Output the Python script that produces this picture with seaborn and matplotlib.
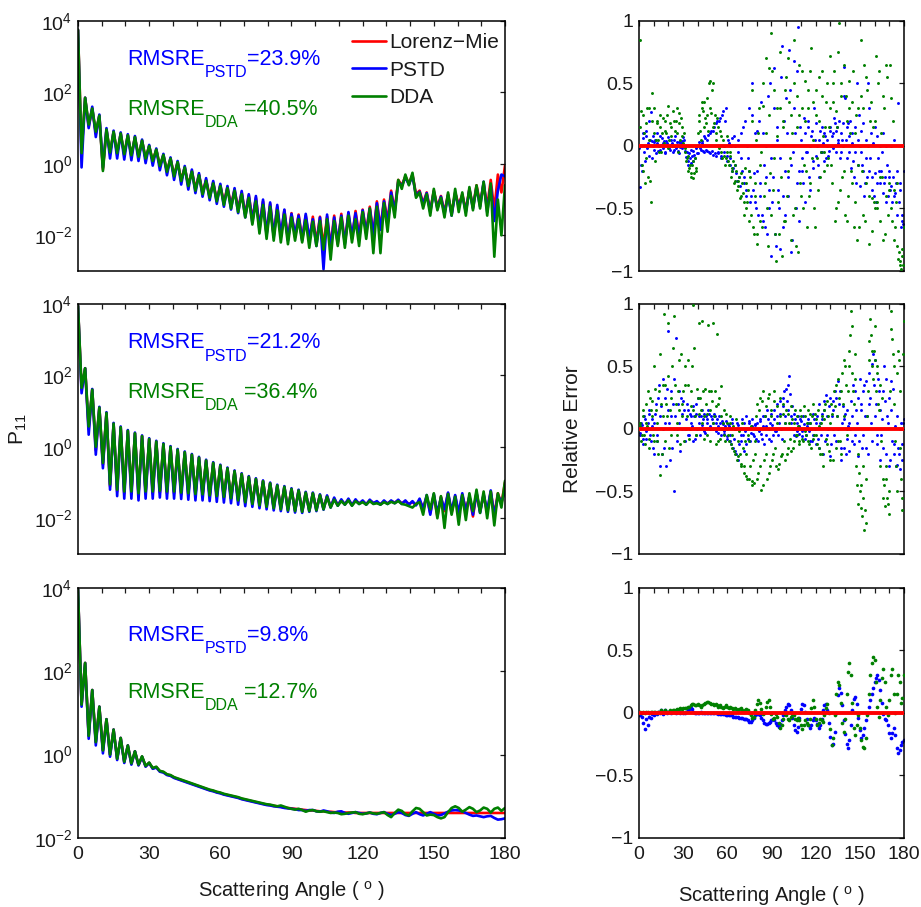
import numpy as np
import matplotlib
matplotlib.use("Agg")
import matplotlib.pyplot as plt
import seaborn as sns
from matplotlib.ticker import NullLocator

# scattering angle grids (deg)
angle = np.arange(0, 180.1, 1.5)
err_angle = np.arange(0, 181, 1)
err_angle_half = np.arange(0.5, 180, 1)

# log10(P11), case 1
mie_1 = [3.75, 0.3, 1.85, 1.05, 1.55, 0.85, 1.35, -0.15, 0.96, 0.3,
         0.9, 0.28, 0.85, 0.25, 0.8, 0.22, 0.75, 0.2, 0.65, 0.15,
         0.5, 0.08, 0.4, -0.05, 0.25, -0.2, 0.15, -0.32, 0.05, -0.45,
         -0.1, -0.6, -0.2, -0.7, -0.3, -0.8, -0.45, -0.9, -0.52, -1.0,
         -0.6, -1.08, -0.65, -1.15, -0.72, -1.25, -0.8, -1.4, -0.88, -1.55,
         -0.95, -1.75, -1.05, -1.95, -1.12, -2.0, -1.2, -2.05, -1.3, -2.1,
         -1.38, -2.05, -1.42, -2.1, -1.45, -2.15, -1.48, -2.2, -1.48, -2.3,
         -1.48, -2.3, -1.45, -2.25, -1.4, -2.2, -1.38, -2.1, -1.32, -2.0,
         -1.28, -1.9, -1.2, -1.95, -1.05, -1.8, -1.0, -1.6, -0.75, -1.3,
         -0.45, -0.6, -0.35, -0.55, -0.3, -0.85, -0.75, -1.1, -0.8, -1.3,
         -0.75, -1.2, -0.9, -1.35, -0.85, -1.4, -0.8, -1.15, -0.85, -1.3,
         -0.7, -1.2, -0.6, -1.1, -0.55, -1.2, -0.45, -1.3, -0.3, -0.8,
         -0.05]
pstd_1 = [3.75, -0.1, 1.85, 1.0, 1.6, 0.75, 1.38, -0.1, 1.0, 0.15,
          0.93, 0.15, 0.88, 0.12, 0.83, 0.1, 0.78, 0.08, 0.68, 0.02,
          0.53, -0.05, 0.43, -0.18, 0.28, -0.32, 0.18, -0.45, 0.08, -0.58,
          -0.06, -0.72, -0.16, -0.82, -0.26, -0.92, -0.4, -1.02, -0.48, -1.12,
          -0.56, -1.2, -0.62, -1.28, -0.68, -1.38, -0.76, -1.5, -0.85, -1.65,
          -0.9, -1.85, -1.0, -2.0, -1.08, -2.05, -1.15, -2.0, -1.28, -2.15,
          -1.4, -2.0, -1.45, -2.15, -1.4, -2.1, -1.55, -2.3, -1.5, -2.95,
          -1.42, -2.4, -1.5, -2.2, -1.45, -2.25, -1.35, -2.05, -1.38, -2.1,
          -1.3, -1.95, -1.25, -2.0, -1.1, -1.85, -1.05, -1.7, -0.8, -1.35,
          -0.5, -0.62, -0.38, -0.58, -0.33, -0.9, -0.78, -1.15, -0.82, -1.35,
          -0.78, -1.25, -0.92, -1.4, -0.88, -1.45, -0.82, -1.2, -0.88, -1.35,
          -0.72, -1.25, -0.65, -1.2, -0.5, -1.35, -0.6, -1.6, -0.75, -0.3,
          -0.35]
dda_1 = [3.75, 0.3, 1.85, 1.1, 1.55, 0.9, 1.35, -0.2, 0.96, 0.32,
         0.9, 0.3, 0.85, 0.27, 0.8, 0.24, 0.75, 0.2, 0.65, 0.15,
         0.5, 0.08, 0.4, -0.06, 0.25, -0.22, 0.15, -0.35, 0.05, -0.48,
         -0.1, -0.62, -0.22, -0.75, -0.32, -0.85, -0.48, -0.95, -0.55, -1.05,
         -0.62, -1.15, -0.68, -1.25, -0.75, -1.35, -0.85, -1.5, -0.95, -1.7,
         -1.05, -1.95, -1.15, -2.1, -1.2, -2.15, -1.3, -2.2, -1.42, -2.25,
         -1.5, -2.15, -1.55, -2.2, -1.58, -2.35, -1.62, -2.3, -1.6, -2.4,
         -1.55, -2.68, -1.6, -2.3, -1.5, -2.35, -1.45, -2.2, -1.55, -2.3,
         -1.35, -2.1, -1.25, -2.5, -1.2, -2.5, -1.1, -1.9, -0.9, -1.5,
         -0.45, -0.7, -0.3, -0.6, -0.25, -0.95, -0.8, -1.25, -0.85, -1.45,
         -0.7, -1.3, -0.95, -1.5, -0.8, -1.45, -0.7, -1.35, -0.8, -1.45,
         -0.65, -1.3, -0.6, -1.25, -0.5, -1.45, -0.55, -2.6, -1.0, -2.0,
         -0.6]

# log10(P11), case 2
mie_2 = [3.95, 1.6, 2.2, 0.5, 1.6, -0.1, 1.1, -0.5, 0.95, -1.1,
         0.65, -1.25, 0.55, -1.3, 0.45, -1.3, 0.38, -1.35, 0.3, -1.3,
         0.22, -1.3, 0.15, -1.28, 0.08, -1.3, 0.0, -1.3, -0.08, -1.32,
         -0.15, -1.33, -0.22, -1.35, -0.3, -1.36, -0.38, -1.38, -0.45, -1.4,
         -0.52, -1.42, -0.6, -1.45, -0.68, -1.5, -0.76, -1.55, -0.84, -1.58,
         -0.9, -1.62, -0.96, -1.66, -1.02, -1.7, -1.08, -1.72, -1.12, -1.75,
         -1.18, -1.78, -1.22, -1.8, -1.28, -1.78, -1.3, -1.75, -1.35, -1.72,
         -1.38, -1.68, -1.45, -1.62, -1.5, -1.6, -1.48, -1.62, -1.5, -1.58,
         -1.52, -1.6, -1.5, -1.57, -1.55, -1.6, -1.53, -1.58, -1.52, -1.56,
         -1.5, -1.58, -1.52, -1.6, -1.55, -1.62, -1.5, -1.7, -1.4, -1.85,
         -1.35, -1.95, -1.4, -1.8, -1.3, -1.85, -1.38, -1.9, -1.35, -1.75,
         -1.4, -1.95, -1.3, -1.8, -1.35, -1.85, -1.25, -1.9, -1.3, -1.6,
         -1.0]
pstd_2 = [3.95, 1.5, 2.2, 0.34, 1.62, -0.22, 1.12, -0.6, 0.97, -1.2,
          0.67, -1.38, 0.57, -1.45, 0.47, -1.45, 0.4, -1.5, 0.32, -1.45,
          0.24, -1.45, 0.17, -1.42, 0.1, -1.45, 0.02, -1.45, -0.06, -1.46,
          -0.13, -1.48, -0.2, -1.5, -0.28, -1.5, -0.36, -1.52, -0.43, -1.54,
          -0.5, -1.56, -0.58, -1.58, -0.66, -1.62, -0.74, -1.66, -0.82, -1.68,
          -0.88, -1.72, -0.94, -1.75, -1.0, -1.78, -1.06, -1.8, -1.1, -1.82,
          -1.16, -1.84, -1.2, -1.85, -1.26, -1.82, -1.28, -1.8, -1.33, -1.76,
          -1.36, -1.7, -1.42, -1.65, -1.47, -1.62, -1.45, -1.64, -1.47, -1.6,
          -1.5, -1.62, -1.48, -1.58, -1.52, -1.62, -1.5, -1.6, -1.5, -1.58,
          -1.48, -1.6, -1.5, -1.62, -1.52, -1.64, -1.45, -1.75, -1.35, -1.9,
          -1.32, -1.85, -1.42, -1.75, -1.28, -1.8, -1.35, -1.85, -1.3, -1.8,
          -1.38, -1.9, -1.28, -1.85, -1.32, -1.8, -1.22, -1.95, -1.35, -1.55,
          -1.25]
dda_2 = [3.95, 1.65, 2.2, 0.57, 1.6, 0.0, 1.1, -0.45, 0.95, -1.05,
         0.65, -1.2, 0.55, -1.25, 0.45, -1.25, 0.38, -1.3, 0.3, -1.25,
         0.22, -1.25, 0.15, -1.23, 0.08, -1.25, 0.0, -1.25, -0.08, -1.28,
         -0.15, -1.3, -0.22, -1.32, -0.3, -1.33, -0.38, -1.36, -0.45, -1.38,
         -0.52, -1.4, -0.6, -1.44, -0.68, -1.5, -0.76, -1.55, -0.84, -1.6,
         -0.9, -1.64, -0.96, -1.68, -1.02, -1.72, -1.08, -1.75, -1.12, -1.78,
         -1.18, -1.8, -1.22, -1.82, -1.28, -1.8, -1.3, -1.78, -1.35, -1.75,
         -1.4, -1.7, -1.48, -1.65, -1.52, -1.62, -1.5, -1.65, -1.52, -1.6,
         -1.55, -1.62, -1.52, -1.6, -1.58, -1.62, -1.55, -1.6, -1.54, -1.58,
         -1.52, -1.6, -1.62, -1.66, -1.7, -1.6, -1.55, -1.9, -1.35, -1.75,
         -1.3, -2.0, -1.38, -2.27, -1.32, -1.9, -1.4, -2.18, -1.35, -2.05,
         -1.3, -1.8, -1.2, -1.85, -1.25, -2.0, -1.25, -2.2, -1.3, -1.7,
         -0.95]

# log10(P11), case 3
mie_3 = [3.97, 1.2, 2.2, 0.45, 1.55, 0.3, 1.15, 0.1, 0.85, 0.0,
         0.6, -0.1, 0.4, -0.18, 0.22, -0.22, 0.08, -0.25, -0.05, -0.28,
         -0.2, -0.33, -0.3, -0.4, -0.42, -0.48, -0.5, -0.55, -0.58, -0.61,
         -0.64, -0.67, -0.7, -0.73, -0.76, -0.79, -0.82, -0.85, -0.87, -0.9,
         -0.92, -0.95, -0.97, -0.99, -1.01, -1.03, -1.06, -1.08, -1.1, -1.12,
         -1.14, -1.16, -1.18, -1.2, -1.21, -1.23, -1.24, -1.25, -1.27, -1.28,
         -1.29, -1.3, -1.31, -1.32, -1.33, -1.34, -1.34, -1.35, -1.36, -1.36,
         -1.37, -1.37, -1.38, -1.38, -1.38, -1.39, -1.39, -1.39, -1.4, -1.4,
         -1.4, -1.4, -1.4, -1.4, -1.4, -1.4, -1.4, -1.4, -1.4, -1.4,
         -1.4, -1.4, -1.4, -1.4, -1.4, -1.4, -1.4, -1.4, -1.4, -1.4,
         -1.4, -1.4, -1.4, -1.4, -1.4, -1.4, -1.4, -1.4, -1.4, -1.4,
         -1.4, -1.4, -1.4, -1.4, -1.4, -1.4, -1.4, -1.4, -1.4, -1.4,
         -1.4]
pstd_3 = [3.97, 1.15, 2.2, 0.38, 1.55, 0.22, 1.15, 0.03, 0.85, -0.05,
          0.6, -0.13, 0.4, -0.2, 0.22, -0.24, 0.08, -0.26, -0.05, -0.29,
          -0.2, -0.34, -0.31, -0.41, -0.43, -0.49, -0.51, -0.56, -0.59, -0.62,
          -0.65, -0.68, -0.71, -0.74, -0.77, -0.8, -0.83, -0.86, -0.88, -0.91,
          -0.93, -0.96, -0.98, -1.0, -1.02, -1.04, -1.07, -1.09, -1.11, -1.13,
          -1.15, -1.17, -1.19, -1.21, -1.22, -1.24, -1.25, -1.26, -1.28, -1.29,
          -1.3, -1.31, -1.33, -1.33, -1.35, -1.33, -1.33, -1.36, -1.37, -1.34,
          -1.36, -1.39, -1.4, -1.37, -1.36, -1.4, -1.42, -1.4, -1.38, -1.4,
          -1.42, -1.41, -1.39, -1.42, -1.43, -1.4, -1.38, -1.42, -1.45, -1.42,
          -1.38, -1.4, -1.45, -1.47, -1.42, -1.38, -1.43, -1.46, -1.42, -1.38,
          -1.42, -1.46, -1.45, -1.41, -1.37, -1.34, -1.33, -1.34, -1.36, -1.4,
          -1.44, -1.47, -1.46, -1.48, -1.5, -1.48, -1.47, -1.52, -1.56, -1.55,
          -1.53]
dda_3 = [3.97, 1.2, 2.2, 0.45, 1.55, 0.3, 1.15, 0.1, 0.85, 0.0,
         0.6, -0.1, 0.4, -0.17, 0.22, -0.21, 0.08, -0.24, -0.04, -0.27,
         -0.19, -0.32, -0.29, -0.39, -0.41, -0.47, -0.49, -0.54, -0.57, -0.6,
         -0.63, -0.66, -0.69, -0.72, -0.75, -0.78, -0.81, -0.84, -0.86, -0.89,
         -0.91, -0.94, -0.96, -0.98, -1.0, -1.02, -1.05, -1.07, -1.09, -1.11,
         -1.13, -1.15, -1.17, -1.19, -1.2, -1.22, -1.24, -1.22, -1.25, -1.28,
         -1.3, -1.32, -1.3, -1.33, -1.37, -1.34, -1.33, -1.36, -1.37, -1.36,
         -1.38, -1.4, -1.39, -1.4, -1.43, -1.42, -1.4, -1.39, -1.38, -1.42,
         -1.43, -1.41, -1.39, -1.41, -1.42, -1.4, -1.38, -1.45, -1.5, -1.4,
         -1.32, -1.35, -1.43, -1.46, -1.36, -1.28, -1.3, -1.38, -1.46, -1.44,
         -1.45, -1.5, -1.53, -1.5, -1.38, -1.28, -1.24, -1.28, -1.37, -1.32,
         -1.26, -1.3, -1.38, -1.34, -1.27, -1.3, -1.39, -1.3, -1.27, -1.35,
         -1.28]

# relative error vs Lorenz-Mie at whole degrees
err_pstd_1 = [-0.02, -0.33, -0.2, 0.06, -0.12, 0.08, 0.02, -0.08, 0.27, 0.04,
              -0.03, 0.05, 0.02, -0.04, 0.08, 0.01, -0.02, 0.04, -0.06, 0.02,
              0.07, -0.03, 0.01, -0.05, 0.05, -0.02, 0.03, -0.06, -0.01, 0.04,
              0.07, -0.04, -0.09, -0.12, -0.06, -0.14, -0.08, -0.04, -0.1, -0.02,
              -0.06, 0.01, -0.03, 0.04, -0.05, 0.06, -0.04, 0.09, -0.06, 0.12,
              -0.07, 0.15, -0.08, 0.2, -0.06, 0.22, -0.1, 0.28, -0.05, 0.3,
              -0.12, 0.02, -0.15, 0.06, -0.18, 0.0, -0.22, -0.05, -0.25, 0.1,
              -0.2, -0.3, 0.2, -0.35, -0.1, 0.3, -0.4, 0.5, -0.22, -0.45,
              0.12, -0.55, -0.3, 0.35, -0.6, -0.15, 0.0, -0.7, -0.35, 0.5,
              -0.88, -0.25, 0.62, -0.8, 0.15, -0.5, -0.1, 0.8, -0.65, -0.2,
              0.38, -0.4, 0.77, -0.15, -0.75, 0.68, 0.1, -0.3, 0.95, -0.6,
              0.05, -0.2, 0.22, -0.45, -0.05, 0.15, -0.35, 0.08, -0.12, 0.3,
              -0.08, 0.0, -0.25, 0.12, -0.05, 0.02, 0.1, -0.1, 0.05, -0.04,
              0.15, 0.08, -0.02, 0.18, 0.12, 0.02, 0.2, -0.05, 0.05, 0.63,
              0.38, -0.1, 0.18, 0.08, -0.18, 0.1, -0.25, -0.05, 0.5, -0.15,
              -0.32, 0.12, -0.2, -0.4, 0.05, -0.25, 0.3, -0.1, -0.35, 0.02,
              -0.22, -0.45, 0.08, -0.2, -0.3, -0.05, -0.38, -0.25, 0.0, -0.4,
              -0.2, -0.32, -0.45, 0.05, -0.38, -0.55, 0.34, -0.3, -0.65, -0.6,
              -0.2]
err_dda_1 = [0.0, 0.85, -0.15, 0.25, -0.3, 0.18, -0.25, 0.3, -0.45, 0.42,
             0.1, -0.12, 0.2, 0.05, 0.15, -0.05, 0.22, 0.02, 0.12, 0.25,
             -0.02, 0.18, 0.08, 0.28, 0.0, 0.2, 0.1, 0.26, 0.05, 0.15,
             0.02, -0.05, -0.12, -0.08, -0.18, -0.22, -0.15, -0.26, -0.1, -0.2,
             0.1, 0.25, 0.05, 0.35, 0.15, 0.22, 0.38, 0.12, 0.52, 0.26,
             0.5, 0.18, 0.1, 0.22, 0.0, 0.12, -0.05, 0.05, -0.08, -0.1,
             0.08, -0.15, -0.05, -0.2, -0.12, -0.28, -0.2, -0.32, -0.25, -0.4,
             -0.3, -0.45, -0.18, -0.5, -0.35, -0.2, -0.55, 0.45, -0.7, -0.3,
             -0.78, 0.1, -0.6, -0.05, 0.32, -0.4, 0.7, -0.5, 0.62, -0.22,
             0.9, -0.35, 0.45, -0.92, 0.08, -0.7, 0.3, -0.88, 0.15, -0.6,
             0.55, -0.2, 0.35, -0.75, 0.1, 0.85, -0.5, 0.4, -0.85, 0.25,
             -0.4, 0.6, -0.15, 0.52, -0.65, 0.3, -0.3, 0.78, 0.05, -0.5,
             0.45, -0.1, 0.2, -0.25, 0.6, 0.08, -0.05, 0.35, -0.15, 0.15,
             0.72, -0.3, 0.5, -0.6, 0.28, -0.45, 0.98, 0.4, -0.25, 0.65,
             -0.55, 0.2, -0.4, 0.52, -0.2, 0.35, -0.65, 0.1, -0.75, 0.3,
             0.0, 0.85, -0.55, 0.65, -0.3, 0.45, -0.78, 0.2, -0.42, 0.15,
             -0.5, 0.72, -0.45, 0.6, -0.6, -0.25, 0.4, -0.7, 0.65, -0.55,
             -0.3, 0.38, -0.6, -0.35, -0.65, -0.8, -0.9, -0.95, -0.98, -0.82,
             -0.65]
err_pstd_2 = [0.0, -0.05, 0.03, -0.12, 0.08, -0.08, 0.05, 0.15, -0.1, 0.02,
              -0.2, 0.12, -0.05, 0.25, -0.3, 0.18, 0.4, -0.15, 0.05, 0.32,
              0.78, -0.25, 0.1, 0.2, -0.5, 0.73, 0.0, 0.3, -0.18, 0.12,
              0.22, -0.1, 0.08, 0.15, -0.05, 0.1, 0.02, 0.18, -0.08, 0.12,
              0.25, 0.05, 0.1, 0.03, 0.12, -0.03, 0.08, 0.15, 0.0, 0.1,
              0.05, 0.12, -0.02, 0.08, 0.02, 0.05, -0.05, 0.04, -0.02, 0.06,
              -0.08, 0.02, -0.1, 0.05, -0.15, 0.0, -0.2, 0.03, -0.12, -0.05,
              0.08, -0.18, -0.02, 0.1, -0.08, 0.05, -0.03, 0.02, -0.06, 0.04,
              0.0, -0.1, 0.06, -0.04, 0.1, -0.12, 0.02, 0.15, -0.08, 0.05,
              0.12, -0.05, 0.08, -0.02, 0.2, 0.05, 0.22, -0.08, 0.25, 0.1,
              0.32, 0.15, 0.42, 0.05, 0.18, -0.05, 0.08, -0.02, 0.1, 0.02,
              0.06, -0.06, 0.04, -0.08, 0.02, 0.05, -0.1, 0.0, -0.05, 0.08,
              -0.12, 0.1, -0.15, 0.05, 0.12, -0.2, 0.15, 0.27, -0.05, 0.18,
              -0.22, 0.1, 0.22, 0.3, -0.1, 0.38, 0.2, -0.25, 0.05, -0.15,
              0.12, -0.08, 0.02, -0.18, 0.22, 0.1, -0.12, 0.3, 0.05, -0.22,
              0.4, 0.15, -0.05, 0.35, -0.15, 0.1, 0.45, 0.25, -0.1, 0.6,
              0.55, 0.2, -0.05, 0.3, -0.25, 0.08, -0.15, 0.22, 0.4, 0.05,
              -0.3, 0.38, -0.1, -0.2, 0.02, -0.29, -0.15, -0.32, 0.05, -0.12,
              0.08]
err_dda_2 = [0.0, 0.02, -0.05, 0.1, -0.12, 0.05, 0.3, -0.08, 0.15, 0.22,
             -0.1, 0.32, 0.05, -0.2, -0.37, 0.2, 0.35, 0.92, -0.1, 0.1,
             0.42, 0.15, -0.05, 0.65, 0.9, 0.2, 0.05, 0.55, -0.12, 0.1,
             0.3, 0.5, 0.0, 0.35, -0.08, 0.18, 0.5, 0.99, 0.1, -0.05,
             0.25, 0.85, 0.15, 0.86, -0.08, 0.32, 0.12, 0.83, -0.1, 0.3,
             0.85, 0.1, -0.12, 0.76, 0.2, -0.08, 0.34, 0.05, -0.05, 0.12,
             0.0, -0.1, 0.05, -0.15, 0.02, -0.2, 0.08, -0.22, -0.02, -0.28,
             0.05, -0.3, -0.1, -0.38, -0.05, -0.4, 0.02, -0.45, -0.43, -0.2,
             0.2, -0.35, 0.25, -0.49, 0.3, -0.25, 0.18, -0.4, 0.28, -0.3,
             0.1, -0.2, 0.22, -0.3, 0.05, -0.28, 0.25, -0.2, 0.12, -0.25,
             0.15, -0.15, 0.05, -0.18, 0.08, -0.1, 0.15, -0.05, 0.02, -0.12,
             0.1, -0.08, 0.18, -0.02, 0.05, -0.1, 0.12, -0.15, 0.2, -0.05,
             0.08, -0.12, 0.02, -0.2, 0.1, -0.3, 0.15, -0.08, 0.22, -0.18,
             0.05, 0.12, -0.25, 0.18, 0.35, -0.1, 0.25, -0.2, 0.45, 0.1,
             0.5, -0.05, 0.3, 0.62, 0.94, 0.82, 0.2, 0.4, -0.45, -0.2,
             -0.5, -0.63, -0.3, -0.81, -0.75, 0.1, 0.55, 0.88, 0.62, 0.4,
             0.82, 0.3, 0.5, 0.15, -0.3, 0.25, -0.55, -0.62, -0.4, -0.6,
             -0.68, 0.94, 0.72, 0.5, -0.1, -0.5, 0.62, 0.3, -0.4, -0.65,
             0.86]
err_pstd_3 = [-0.02, -0.02, -0.03, -0.08, -0.13, -0.05, -0.1, -0.03, -0.04, -0.01,
              -0.02, 0.0, -0.01, 0.01, 0.0, 0.02, -0.01, 0.01, 0.02, 0.0,
              0.01, 0.01, 0.0, 0.01, 0.01, 0.0, 0.01, 0.01, 0.0, 0.01,
              0.0, 0.0, 0.01, 0.02, 0.03, 0.04, 0.03, 0.01, 0.0, 0.0,
              0.0, 0.0, 0.01, 0.0, 0.0, 0.0, 0.0, 0.0, 0.0, 0.0,
              0.0, 0.0, 0.0, 0.0, -0.01, -0.01, -0.01, -0.01, -0.01, -0.02,
              -0.02, -0.02, -0.02, -0.02, -0.03, -0.03, -0.03, -0.03, -0.04, -0.04,
              -0.04, -0.05, -0.05, -0.05, -0.06, -0.07, -0.07, -0.06, -0.04, -0.02,
              -0.01, -0.01, -0.02, -0.04, -0.06, -0.08, -0.09, -0.09, -0.08, -0.07,
              -0.06, -0.05, -0.06, -0.08, -0.1, -0.11, -0.09, -0.06, -0.02, 0.02,
              0.05, 0.07, 0.06, 0.02, -0.04, -0.1, -0.14, -0.15, -0.11, -0.04,
              0.03, 0.07, 0.06, 0.01, -0.05, -0.1, -0.12, -0.1, -0.06, -0.04,
              -0.06, -0.09, -0.12, -0.1, -0.05, 0.02, 0.06, 0.07, 0.02, -0.08,
              -0.19, -0.26, -0.25, -0.15, 0.0, 0.14, 0.2, 0.16, 0.06, -0.06,
              -0.17, -0.25, -0.28, -0.22, -0.1, 0.02, 0.11, 0.13, 0.07, -0.04,
              -0.14, -0.2, -0.18, -0.12, -0.06, 0.0, 0.05, 0.1, 0.15, 0.2,
              0.25, 0.28, 0.3, 0.26, 0.18, 0.08, -0.01, -0.05, -0.06, -0.1,
              -0.16, -0.2, -0.16, -0.12, -0.18, -0.28, -0.32, -0.3, -0.26, -0.23,
              -0.22]
err_dda_3 = [0.0, 0.01, 0.0, 0.01, 0.0, 0.01, 0.01, 0.0, 0.01, 0.01,
             0.01, 0.01, 0.0, 0.01, 0.01, 0.02, 0.01, 0.01, 0.02, 0.01,
             0.01, 0.02, 0.01, 0.02, 0.02, 0.02, 0.03, 0.03, 0.04, 0.03,
             0.04, 0.04, 0.04, 0.05, 0.05, 0.06, 0.07, 0.07, 0.06, 0.06,
             0.07, 0.06, 0.05, 0.06, 0.07, 0.08, 0.09, 0.09, 0.08, 0.07,
             0.07, 0.06, 0.07, 0.06, 0.05, 0.06, 0.05, 0.04, 0.05, 0.06,
             0.05, 0.04, 0.05, 0.04, 0.03, 0.04, 0.03, 0.02, 0.03, 0.04,
             0.02, 0.01, 0.02, 0.03, 0.02, 0.0, -0.02, -0.04, -0.03, 0.02,
             0.07, 0.1, 0.08, 0.03, -0.01, 0.0, 0.05, 0.09, 0.1, 0.05,
             -0.01, -0.05, -0.04, -0.01, -0.03, -0.08, -0.12, -0.1, -0.05, -0.01,
             -0.02, -0.05, -0.06, -0.03, -0.01, -0.02, -0.05, -0.06, -0.04, -0.06,
             -0.1, -0.13, -0.1, -0.06, -0.08, -0.1, -0.05, 0.04, 0.1, 0.05,
             -0.05, -0.1, -0.08, -0.05, -0.06, -0.07, -0.02, 0.04, 0.07, 0.0,
             -0.13, -0.26, -0.2, -0.02, 0.15, 0.25, 0.22, 0.08, -0.08, -0.15,
             -0.05, 0.15, 0.33, 0.4, 0.3, 0.08, -0.12, -0.18, -0.1, -0.02,
             -0.12, -0.22, -0.27, -0.28, -0.2, -0.02, 0.15, 0.3, 0.4, 0.45,
             0.42, 0.25, 0.05, -0.03, 0.1, 0.28, 0.35, 0.25, 0.05, -0.02,
             0.1, 0.3, 0.35, 0.15, 0.0, 0.15, 0.3, 0.25, 0.08, 0.12,
             0.3]

# relative error at half degrees (cases 1 and 2 are sampled more densely)
err_pstd_1_half = [0.0, -0.15, 0.1, -0.05, 0.12, -0.02, 0.2, 0.05, -0.1, 0.08,
                   0.03, -0.06, 0.1, 0.0, -0.03, 0.06, 0.02, -0.05, 0.04, 0.0,
                   -0.02, 0.05, 0.02, -0.03, 0.08, 0.0, -0.04, 0.03, 0.02, -0.02,
                   0.05, 0.0, -0.05, -0.15, -0.1, -0.03, -0.12, -0.07, 0.0, -0.06,
                   0.03, -0.02, 0.02, -0.04, 0.08, -0.03, 0.05, -0.05, 0.1, -0.04,
                   0.12, -0.06, 0.18, -0.05, 0.2, -0.08, 0.25, 0.0, 0.2, -0.08,
                   0.05, -0.1, 0.0, -0.2, 0.08, -0.15, -0.28, 0.05, -0.32, -0.1,
                   0.15, -0.25, -0.4, 0.0, -0.2, -0.45, 0.25, -0.35, 0.1, -0.5,
                   -0.2, 0.2, -0.4, -0.55, 0.1, -0.65, -0.25, 0.4, -0.5, -0.1,
                   -0.45, 0.3, -0.7, 0.05, -0.35, -0.82, 0.55, -0.4, 0.2, -0.55,
                   0.1, -0.25, 0.45, -0.85, -0.05, 0.3, -0.5, 0.6, -0.2, 0.15,
                   -0.1, -0.3, 0.1, -0.05, 0.2, -0.25, 0.0, 0.12, -0.18, 0.05,
                   0.18, -0.15, 0.05, -0.05, 0.15, -0.12, 0.08, 0.0, -0.08, 0.12,
                   0.0, 0.1, 0.22, -0.05, 0.15, 0.05, -0.1, 0.1, 0.18, 0.4,
                   0.05, 0.15, -0.05, 0.2, 0.02, -0.12, 0.15, -0.3, 0.05, 0.25,
                   -0.05, -0.15, 0.18, -0.3, -0.1, 0.5, -0.2, 0.1, -0.25, -0.4,
                   0.15, -0.3, -0.1, 0.0, -0.2, 0.1, -0.3, -0.45, -0.15, -0.25,
                   -0.35, 0.0, -0.25, -0.4, -0.3, -0.2, -0.45, -0.35, -0.55, -0.62]
err_dda_1_half = [0.15, 0.28, -0.2, 0.1, -0.1, 0.3, 0.05, -0.28, 0.2, 0.0,
                  0.3, 0.05, 0.18, -0.05, 0.25, 0.1, 0.0, 0.2, 0.1, 0.32,
                  0.05, 0.15, 0.0, 0.2, 0.12, 0.3, -0.05, 0.18, 0.22, 0.08,
                  0.1, -0.02, -0.1, -0.2, -0.15, -0.25, -0.12, -0.22, -0.18, 0.0,
                  0.2, 0.12, 0.3, 0.28, 0.35, 0.18, 0.25, 0.5, 0.3, 0.45,
                  0.15, 0.25, 0.05, 0.15, -0.02, 0.08, -0.1, 0.0, -0.15, -0.05,
                  -0.12, -0.08, -0.25, -0.18, -0.3, -0.15, -0.35, -0.28, -0.42, -0.22,
                  -0.38, -0.55, -0.3, -0.45, -0.6, -0.25, 0.2, -0.65, -0.4, 0.05,
                  -0.7, 0.3, -0.15, -0.65, 0.5, -0.3, 0.1, -0.8, 0.25, -0.55,
                  0.6, -0.1, -0.7, 0.3, -0.45, 0.75, -0.25, 0.2, -0.6, 0.45,
                  -0.4, 0.7, -0.1, 0.25, -0.55, 0.5, -0.8, 0.15, 0.65, -0.3,
                  0.3, -0.5, 0.2, -0.2, 0.45, -0.4, 0.6, -0.1, 0.35, -0.65,
                  0.25, -0.35, 0.55, -0.05, 0.4, -0.2, 0.15, 0.5, -0.1, 0.3,
                  -0.15, 0.35, 0.6, -0.5, 0.15, 0.75, -0.35, 0.5, 0.0, -0.2,
                  0.4, -0.6, 0.3, 0.1, -0.3, 0.6, -0.45, 0.25, -0.15, -0.65,
                  0.4, -0.2, 0.3, -0.6, 0.55, 0.0, -0.4, 0.35, -0.68, -0.45,
                  0.2, -0.5, 0.5, -0.25, 0.1, -0.75, 0.3, -0.4, 0.55, -0.35,
                  0.65, -0.5, 0.2, -0.75, -0.45, -0.3, -0.85, -0.92, -0.88, -0.95]
err_pstd_2_half = [-0.03, 0.05, -0.08, 0.1, -0.02, 0.0, 0.12, -0.05, 0.08, -0.15,
                   0.05, 0.2, -0.1, 0.35, 0.1, -0.2, 0.0, 0.25, -0.3, 0.15,
                   0.05, 0.3, -0.15, 0.4, 0.1, -0.1, 0.2, 0.05, 0.25, 0.0,
                   0.15, 0.0, 0.2, -0.05, 0.12, 0.05, -0.1, 0.1, 0.2, 0.0,
                   0.1, -0.05, 0.15, 0.08, -0.02, 0.1, 0.05, 0.12, 0.02, 0.08,
                   0.0, 0.1, 0.05, -0.03, 0.1, 0.0, 0.06, -0.04, 0.02, -0.06,
                   0.04, -0.05, -0.12, 0.08, -0.08, -0.18, 0.05, -0.25, 0.0, -0.1,
                   -0.05, 0.05, -0.12, 0.0, 0.06, -0.1, 0.08, -0.04, 0.03, -0.08,
                   0.05, -0.02, 0.08, -0.08, 0.02, 0.1, -0.05, 0.08, 0.0, -0.1,
                   0.03, 0.15, -0.02, 0.1, -0.05, 0.12, 0.0, 0.18, 0.3, 0.05,
                   0.22, 0.35, 0.28, 0.1, 0.0, 0.12, -0.06, 0.05, -0.04, 0.08,
                   -0.02, 0.1, 0.0, -0.05, 0.08, -0.02, 0.05, -0.1, 0.12, 0.0,
                   0.05, -0.08, 0.2, -0.05, 0.08, 0.22, -0.1, 0.1, 0.0, 0.25,
                   -0.12, 0.15, -0.05, 0.25, 0.1, 0.0, 0.3, -0.15, 0.18, 0.08,
                   -0.2, 0.15, 0.05, 0.0, -0.1, 0.35, -0.05, 0.15, 0.25, -0.1,
                   0.2, -0.15, 0.3, 0.1, 0.38, -0.2, 0.2, 0.05, 0.52, 0.35,
                   0.1, -0.12, 0.4, 0.15, -0.05, 0.3, 0.5, -0.2, 0.1, 0.25,
                   -0.25, 0.15, 0.32, -0.12, -0.3, 0.1, -0.2, 0.0, -0.25, 0.05]
err_dda_2_half = [0.05, -0.1, 0.15, -0.05, 0.2, 0.02, -0.15, 0.25, 0.1, -0.05,
                  0.5, 0.15, -0.1, 0.3, 0.6, -0.2, 0.1, 0.35, 0.2, 0.85,
                  -0.15, 0.25, 0.5, 0.0, 0.35, -0.05, 0.3, 0.15, 0.6, 0.2,
                  -0.1, 0.35, 0.1, 0.55, 0.0, 0.3, 0.15, 0.65, -0.05, 0.32,
                  0.12, 0.25, 0.05, 0.3, 0.1, 0.2, -0.05, 0.3, 0.15, 0.22,
                  0.05, 0.3, 0.18, -0.1, 0.25, 0.1, 0.0, 0.15, -0.1, 0.05,
                  -0.05, 0.1, -0.12, -0.05, -0.18, 0.0, -0.25, -0.1, -0.2, -0.3,
                  -0.15, -0.35, -0.2, -0.4, -0.1, -0.3, -0.42, -0.25, -0.1, 0.1,
                  -0.4, 0.15, -0.3, 0.22, -0.45, 0.1, -0.2, 0.25, -0.35, 0.15,
                  -0.25, 0.3, -0.15, 0.18, -0.32, 0.1, -0.22, 0.2, -0.1, 0.05,
                  -0.2, 0.12, -0.08, 0.18, -0.15, 0.05, -0.05, 0.1, -0.1, 0.15,
                  0.0, -0.1, 0.1, -0.05, 0.15, -0.12, 0.05, 0.1, -0.08, 0.12,
                  -0.05, 0.15, -0.15, 0.05, -0.2, 0.08, 0.2, -0.12, 0.1, -0.25,
                  0.2, 0.0, 0.3, -0.15, 0.1, 0.4, -0.1, 0.3, 0.2, 0.55,
                  0.35, 0.0, 0.5, 0.75, 0.45, 0.3, 0.6, -0.3, -0.6, -0.35,
                  -0.45, -0.7, -0.55, -0.65, -0.4, 0.3, 0.7, 0.75, 0.5, 0.62,
                  0.55, 0.45, 0.2, 0.35, -0.1, -0.4, -0.45, -0.3, -0.55, -0.5,
                  0.3, 0.8, 0.6, 0.2, -0.3, 0.45, 0.55, -0.15, -0.55, 0.6]

# Lorenz-Mie is the reference, so its relative error is zero everywhere
err_mie = [0.0 for _ in err_angle]

rmsre_pstd = ["23.9", "21.2", "9.8"]
rmsre_dda = ["40.5", "36.4", "12.7"]

RED = (1, 0, 0)
BLUE = (0, 0, 1)
GREEN = (0, 0.5, 0)

sns.set_theme(style="white")
plt.rcParams.update({
    "font.family": ["Liberation Sans", "DejaVu Sans"],
    "mathtext.fontset": "custom",
    "mathtext.rm": "Liberation Sans",
    "mathtext.it": "Liberation Sans:italic",
    "mathtext.bf": "Liberation Sans:bold",
    "mathtext.default": "regular",
    "text.color": "#1a1a1a",
    "axes.labelcolor": "#1a1a1a",
    "xtick.color": "#1a1a1a",
    "ytick.color": "#1a1a1a",
    "axes.edgecolor": "black",
    "axes.linewidth": 1.1,
    "xtick.direction": "in",
    "ytick.direction": "in",
    "xtick.top": True,
    "ytick.right": True,
    "xtick.major.size": 3.5,
    "ytick.major.size": 3.5,
    "xtick.major.width": 0.9,
    "ytick.major.width": 0.9,
    "xtick.labelsize": 14,
    "ytick.labelsize": 14,
})


def rmsre_label(ax, y, sub, value, color):
    # MATLAB-style subscript: smaller and dropped well below the baseline
    t1 = ax.text(0.115, y, "RMSRE", transform=ax.transAxes, color=color,
                 fontsize=15.5, va="baseline")
    t2 = ax.annotate(sub, xy=(1, 0), xycoords=t1, xytext=(0, -7.5),
                     textcoords="offset points", color=color, fontsize=11.5,
                     va="bottom", ha="left")
    ax.annotate(value, xy=(1, 0), xycoords=t2, xytext=(0, 7.5),
                textcoords="offset points", color=color, fontsize=15.5,
                va="bottom", ha="left")


fig = plt.figure(figsize=(9.21, 9.07), dpi=100)

rows_bottom = [0.7012, 0.3892, 0.0761]
row_h = 0.2757
left_axes = [fig.add_axes([0.0847, b, 0.4636, row_h]) for b in rows_bottom]
right_axes = [fig.add_axes([0.6938, b, 0.2877, row_h]) for b in rows_bottom]

cases = [(mie_1, pstd_1, dda_1), (mie_2, pstd_2, dda_2), (mie_3, pstd_3, dda_3)]
errs = [
    (np.concatenate([err_angle, err_angle_half]), err_pstd_1 + err_pstd_1_half, err_dda_1 + err_dda_1_half),
    (np.concatenate([err_angle, err_angle_half]), err_pstd_2 + err_pstd_2_half, err_dda_2 + err_dda_2_half),
    (err_angle, err_pstd_3, err_dda_3),
]
dot_size = [4.5, 4.5, 7]
ymins = [1e-3, 1e-3, 1e-2]
text_y = [(0.824, 0.624), (0.823, 0.624), (0.788, 0.56)]

xticks = list(range(0, 181, 10))

for i, ax in enumerate(left_axes):
    mie, pstd, dda = cases[i]
    sns.lineplot(x=angle, y=10 ** np.array(mie), ax=ax, color=RED, lw=1.9,
                 label="Lorenz\u2212Mie", errorbar=None)
    sns.lineplot(x=angle, y=10 ** np.array(pstd), ax=ax, color=BLUE, lw=1.9,
                 label="PSTD", errorbar=None)
    sns.lineplot(x=angle, y=10 ** np.array(dda), ax=ax, color=GREEN, lw=1.9,
                 label="DDA", errorbar=None)
    ax.set_yscale("log")
    ax.set_xlim(0, 180)
    ax.set_ylim(ymins[i], 1e4)
    ax.set_yticks([1e-2, 1, 1e2, 1e4])
    ax.yaxis.set_minor_locator(NullLocator())
    ax.set_xticks(xticks)
    if i == 2:
        ax.set_xticklabels([str(v) if v % 30 == 0 else "" for v in xticks])
    else:
        ax.set_xticklabels([])
    ax.tick_params(axis="x", pad=6)
    ax.tick_params(axis="y", pad=4)
    ax.set_xlabel("")
    ax.set_ylabel("")
    for s in ax.spines.values():
        s.set_visible(True)

    ty1, ty2 = text_y[i]
    rmsre_label(ax, ty1, "PSTD", "=" + rmsre_pstd[i] + "%", BLUE)
    rmsre_label(ax, ty2, "DDA", " =" + rmsre_dda[i] + "%", GREEN)

    if i == 0:
        ax.legend(loc="upper right", bbox_to_anchor=(1.0, 0.975), frameon=False,
                  fontsize=15, handlelength=1.6, handletextpad=0.15,
                  labelspacing=0.4, borderaxespad=0.0, borderpad=0.3)
    else:
        ax.get_legend().remove()

for i, ax in enumerate(right_axes):
    x_err, e_pstd, e_dda = errs[i]
    sns.scatterplot(x=x_err, y=e_pstd, ax=ax, color=BLUE, s=dot_size[i],
                    linewidth=0, zorder=2)
    sns.scatterplot(x=x_err, y=e_dda, ax=ax, color=GREEN, s=dot_size[i],
                    linewidth=0, zorder=3)
    sns.lineplot(x=err_angle, y=err_mie, ax=ax, color=RED, lw=2.8,
                 errorbar=None, zorder=4)
    ax.set_xlim(0, 180)
    ax.set_ylim(-1, 1)
    ax.set_yticks([-1, -0.5, 0, 0.5, 1])
    ax.set_yticklabels(["\u22121", "\u22120.5", "0", "0.5", "1"])
    ax.set_xticks(xticks)
    if i == 2:
        ax.set_xticklabels([str(v) if v % 30 == 0 else "" for v in xticks])
    else:
        ax.set_xticklabels([])
    ax.tick_params(axis="x", pad=6)
    ax.tick_params(axis="y", pad=4)
    ax.set_xlabel("")
    ax.set_ylabel("")
    for s in ax.spines.values():
        s.set_visible(True)

left_axes[1].set_ylabel(r"P$_{11}$", fontsize=15)
left_axes[1].yaxis.set_label_coords(-0.115, 0.5)
right_axes[1].set_ylabel("Relative Error", fontsize=15)
right_axes[1].yaxis.set_label_coords(-0.215, 0.5)

xlab = r"Scattering Angle ( $^{o}$ )"
left_axes[2].set_xlabel(xlab, fontsize=14.5, va="top")
left_axes[2].xaxis.set_label_coords(0.5, -0.165)
right_axes[2].set_xlabel(xlab, fontsize=14.5, va="top")
right_axes[2].xaxis.set_label_coords(0.5, -0.185)

fig.savefig("out.png", dpi=100)
